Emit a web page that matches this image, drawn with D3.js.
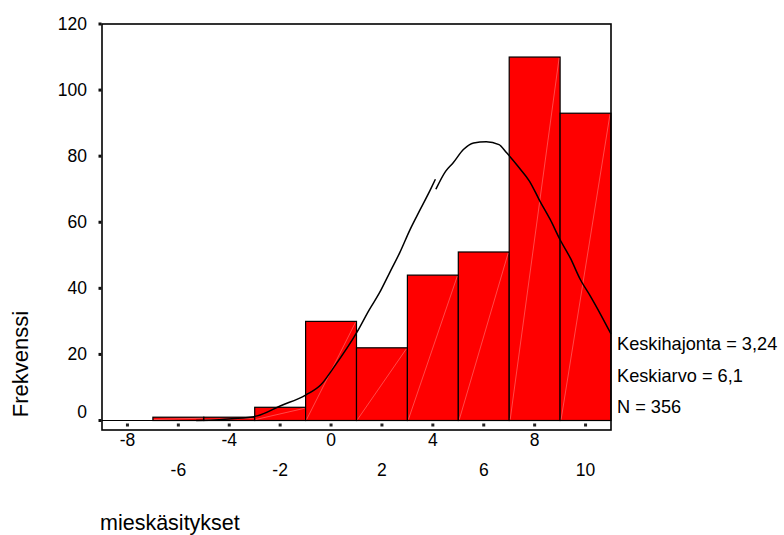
<!DOCTYPE html>
<html>
<head>
<meta charset="utf-8">
<script src="https://cdn.jsdelivr.net/npm/d3@7"></script>
<style>
  html, body { margin: 0; padding: 0; background: #fff; }
  svg { display: block; font-family: "Liberation Sans", Arial, sans-serif; }
</style>
</head>
<body>
<svg id="chart" width="784" height="535"></svg>
<script>
// ---- data ----
const binCenters = [-6, -4, -2, 0, 2, 4, 6, 8, 10];
const frequencies = [1, 1, 4, 30, 22, 44, 51, 110, 93];
const binWidth = 2;
const xTicks = [-8, -6, -4, -2, 0, 2, 4, 6, 8, 10];
const yTicks = [0, 20, 40, 60, 80, 100, 120];
// normal curve as drawn, two pieces
const curveA = [[-5.3,0],[-4.4,0.2],[-3.9,0.5],[-2.9,1.4],[-2,4.4],[-1,7.7],[-0.4,10.8],[0.1,16],[1,26.5],[1.5,33.5],[1.9,38.6],[2.3,44.7],[2.7,50.8],[3.1,57.7],[3.5,63.8],[3.9,69.8],[4.1,73]];
const curveB = [[4.12,70],[4.5,75.4],[4.8,78],[5.2,82],[5.6,84],[6.1,84.4],[6.6,83.5],[6.9,81],[7.4,76.4],[7.8,72.4],[8.2,66.5],[8.6,61],[9.0,54.7],[9.4,49.2],[9.8,42.6],[10.2,37.5],[10.6,32],[11.0,26.2]];
const statLabels = ["Keskihajonta = 3,24", "Keskiarvo = 6,1", "N = 356"];
const xTitle = "mieskäsitykset";
const yTitle = "Frekvenssi";

// ---- layout ----
const L = 102, R = 611, T = 24, Y0 = 420.5, AX = 430;
const svg = d3.select("#chart");
const x = d3.scaleLinear().domain([-9, 11]).range([L, R]);
const y = d3.scaleLinear().domain([0, 120]).range([Y0, T]);

// bars
const bars = binCenters.map((c, i) => ({c, v: frequencies[i]}));
svg.append("g").selectAll("rect").data(bars).join("rect")
  .attr("x", d => x(d.c - binWidth/2))
  .attr("width", d => x(d.c + binWidth/2) - x(d.c - binWidth/2))
  .attr("y", d => y(d.v))
  .attr("height", d => y(0) - y(d.v))
  .attr("fill", "#ff0000")
  .attr("stroke", "#000")
  .attr("stroke-width", 1.2);

// faint diagonal artifacts
svg.append("g").selectAll("line").data(bars).join("line")
  .attr("x1", d => x(d.c - binWidth/2) + 1)
  .attr("y1", y(0) - 1)
  .attr("x2", d => x(d.c + binWidth/2) - 1)
  .attr("y2", d => y(d.v) + 1)
  .attr("stroke", "#ffb0b0")
  .attr("stroke-width", 0.6)
  .attr("opacity", 0.7);

// baseline
svg.append("line").attr("x1", L).attr("x2", R).attr("y1", Y0).attr("y2", Y0)
  .attr("stroke", "#000").attr("stroke-width", 1.2);

// normal curve
const line = d3.line().x(d => x(d[0])).y(d => y(d[1])).curve(d3.curveMonotoneX);
[curveA, curveB].forEach(seg => {
  svg.append("path").attr("d", line(seg))
    .attr("fill", "none").attr("stroke", "#000").attr("stroke-width", 1.5);
});

// frame
svg.append("rect").attr("x", L).attr("y", T).attr("width", R - L).attr("height", AX - T)
  .attr("fill", "none").attr("stroke", "#000").attr("stroke-width", 1.6);

// x tick markers (small squares inside)
svg.append("g").selectAll("rect").data(xTicks).join("rect")
  .attr("x", d => x(d) - 1.5).attr("y", 423.5).attr("width", 3).attr("height", 3)
  .attr("fill", "#222");
// y tick markers
svg.append("g").selectAll("rect").data(yTicks).join("rect")
  .attr("x", L - 3.5).attr("y", d => y(d) - 1.5).attr("width", 3).attr("height", 3)
  .attr("fill", "#111");

// y tick labels
svg.append("g").selectAll("text").data(yTicks).join("text")
  .attr("x", 87)
  .attr("y", d => d === 0 ? y(d) - 2.5 : y(d) + 6)
  .attr("text-anchor", "end")
  .attr("font-size", 17.5)
  .text(d => d);

// x tick labels (staggered)
svg.append("g").selectAll("text").data(xTicks).join("text")
  .attr("x", d => x(d))
  .attr("y", (d, i) => i % 2 === 0 ? 446 : 476)
  .attr("text-anchor", "middle")
  .attr("font-size", 17.5)
  .text(d => d);

// stats
svg.append("g").selectAll("text").data(statLabels).join("text")
  .attr("x", 617)
  .attr("y", (d, i) => 350 + i * 31.5)
  .attr("font-size", 18.2)
  .text(d => d);

// axis titles
svg.append("text").attr("x", 100).attr("y", 530).attr("font-size", 21.5).text(xTitle);
svg.append("text").attr("transform", "translate(28,364) rotate(-90)")
  .attr("text-anchor", "middle").attr("font-size", 22).text(yTitle);
</script>
</body>
</html>
